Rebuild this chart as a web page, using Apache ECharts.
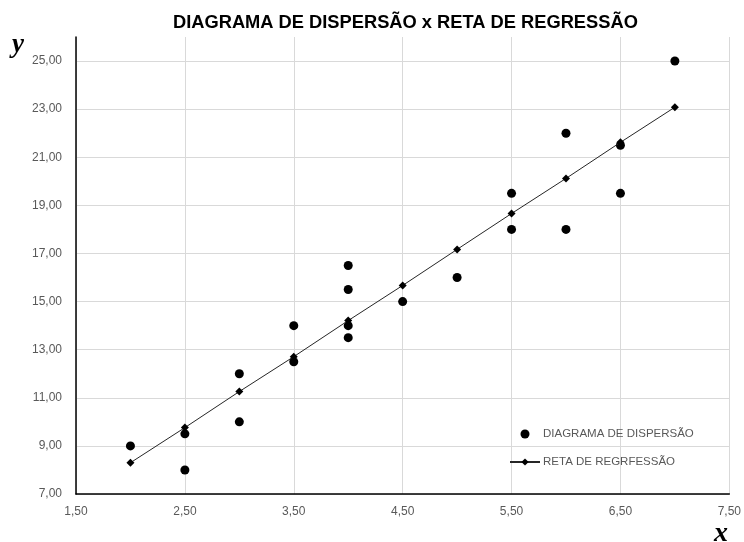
<!DOCTYPE html>
<html>
<head>
<meta charset="utf-8">
<script src="https://cdn.jsdelivr.net/npm/echarts@6/dist/echarts.min.js"></script>
<style>
  html, body { margin: 0; padding: 0; background: #fff; }
  #chart { width: 744px; height: 542px; }
</style>
</head>
<body>
<div id="chart"></div>
<script>
// Observed pairs (x, y)
const scatterX = [2, 2.5, 2.5, 3, 3, 3.5, 3.5, 4, 4, 4, 4, 4.5, 5, 5.5, 5.5, 6, 6, 6.5, 6.5, 7];
const scatterY = [9, 9.5, 8, 10, 12, 14, 12.5, 16.5, 15.5, 14, 13.5, 15, 16, 18, 19.5, 18, 22, 21.5, 19.5, 25];

// Fitted regression line
const lineX = [2, 2.5, 3, 3.5, 4, 4.5, 5, 5.5, 6, 6.5, 7];
const lineY = [8.30, 9.76, 11.26, 12.71, 14.21, 15.67, 17.17, 18.66, 20.12, 21.62, 23.08];

// Axis tick labels
const xTicks = [1.5, 2.5, 3.5, 4.5, 5.5, 6.5, 7.5];
const yTicks = [7, 9, 11, 13, 15, 17, 19, 21, 23, 25];

const seriesNames = ['DIAGRAMA DE DISPERSÃO', 'RETA DE REGRFESSÃO'];
const titleText = 'DIAGRAMA DE DISPERSÃO x RETA DE REGRESSÃO';

const fmt = v => v.toFixed(2).replace('.', ',');
const labelStyle = { color: '#595959', fontFamily: 'Liberation Sans', fontSize: 12 };
const gridLine = { show: true, lineStyle: { color: '#d9d9d9', width: 1 } };

const chart = echarts.init(document.getElementById('chart'), null, { renderer: 'canvas' });
chart.setOption({
  animation: false,
  backgroundColor: '#fff',
  title: {
    text: titleText,
    left: 173,
    top: 14,
    padding: 0,
    itemGap: 0,
    textStyle: { fontFamily: 'Liberation Sans', fontWeight: 'bold', fontSize: 18.3, color: '#000' }
  },
  grid: { left: 76, right: 12, top: 37, bottom: 48, containLabel: false },
  legend: {
    orient: 'vertical',
    left: 509,
    top: 428,
    padding: 0,
    itemWidth: 30,
    itemHeight: 9,
    itemGap: 16,
    textStyle: { color: '#595959', fontFamily: 'Liberation Sans', fontSize: 11.5, padding: [0, 0, 0, -2] },
    data: seriesNames
  },
  xAxis: {
    type: 'value',
    min: 1.5,
    max: 7.5,
    axisLine: { show: true, onZero: false, lineStyle: { color: '#000', width: 1.5 } },
    axisTick: { show: false, customValues: xTicks },
    splitLine: gridLine,
    axisLabel: Object.assign({ customValues: xTicks, margin: 12, formatter: fmt }, labelStyle)
  },
  yAxis: {
    type: 'value',
    min: 7,
    max: 26,
    axisLine: { show: true, onZero: false, lineStyle: { color: '#000', width: 1.5 } },
    axisTick: { show: false, customValues: yTicks },
    splitLine: gridLine,
    axisLabel: Object.assign({ customValues: yTicks, margin: 14, formatter: fmt }, labelStyle)
  },
  graphic: [
    { type: 'text', left: 12, top: 32, style: { text: 'y', font: 'italic bold 27px "Liberation Serif"', fill: '#000' } },
    { type: 'text', left: 714, top: 520, style: { text: 'x', font: 'italic bold 28px "Liberation Serif"', fill: '#000' } }
  ],
  series: [
    {
      name: seriesNames[0],
      type: 'scatter',
      symbol: 'circle',
      symbolSize: 9,
      itemStyle: { color: '#000', opacity: 1 },
      z: 3,
      data: scatterX.map((x, i) => [x, scatterY[i]])
    },
    {
      name: seriesNames[1],
      type: 'line',
      symbol: 'diamond',
      symbolSize: 8,
      showAllSymbol: true,
      lineStyle: { color: '#262626', width: 1 },
      itemStyle: { color: '#000' },
      z: 4,
      data: lineX.map((x, i) => [x, lineY[i]])
    }
  ]
});
</script>
</body>
</html>
